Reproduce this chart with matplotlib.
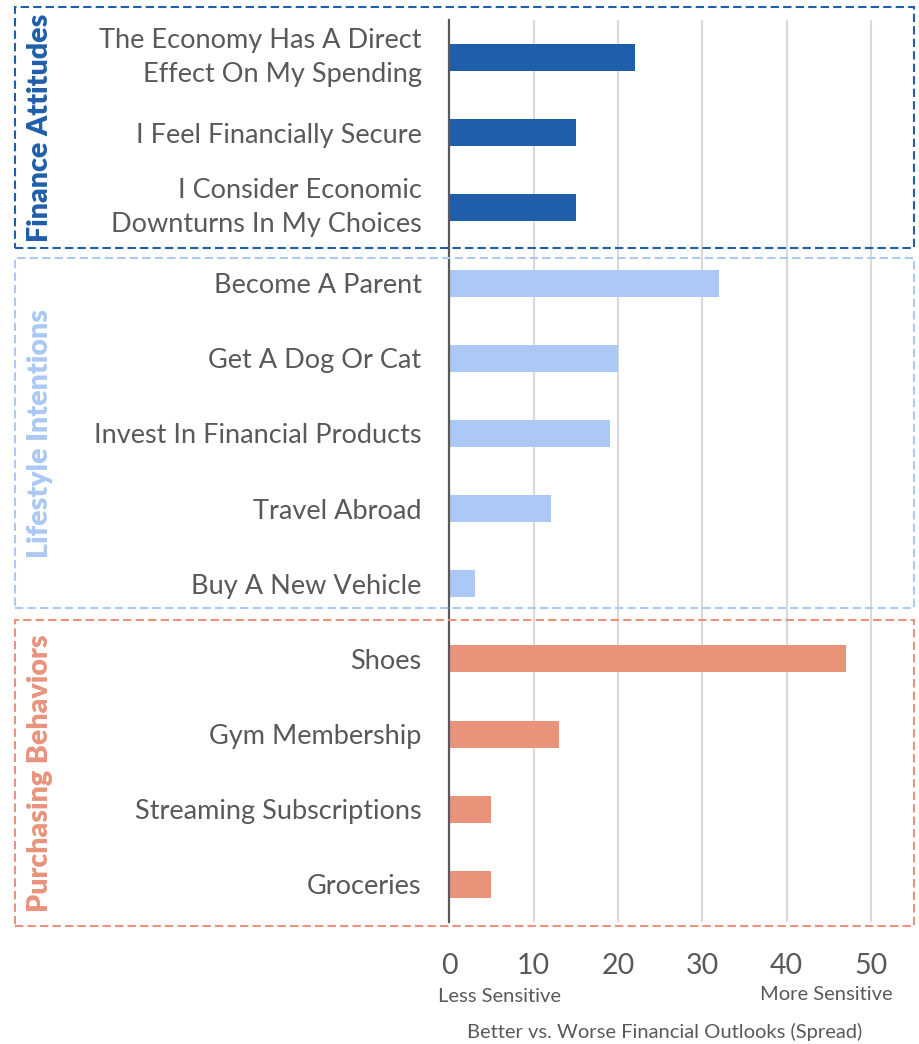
import matplotlib.pyplot as plt
from matplotlib.patches import Rectangle

plt.rcParams['font.family'] = ['Lato', 'DejaVu Sans']

labels = [
    "The Economy Has A Direct\nEffect On My Spending",
    "I Feel Financially Secure",
    "I Consider Economic\nDownturns In My Choices",
    "Become A Parent",
    "Get A Dog Or Cat",
    "Invest In Financial Products",
    "Travel Abroad",
    "Buy A New Vehicle",
    "Shoes",
    "Gym Membership",
    "Streaming Subscriptions",
    "Groceries",
]
spread = [22, 15, 15, 32, 20, 19, 12, 3, 47, 13, 5, 5]
groups = ["Finance Attitudes", "Lifestyle Intentions", "Purchasing Behaviors"]
group_sizes = [3, 5, 4]
group_colors = ["#1f5eaa", "#abc9f4", "#e9937b"]
xticks = [0, 10, 20, 30, 40, 50]

TXT = '#595959'
W, H = 919, 1044
fig = plt.figure(figsize=(W / 100, H / 100), dpi=100)
ax = fig.add_axes([449.3 / W, 1 - 922 / H, (913.2 - 449.3) / W, (922 - 20) / H])

colors = []
for c, n in zip(group_colors, group_sizes):
    colors += [c] * n

y = list(range(len(labels)))
ax.barh(y, spread, height=0.36, color=colors, zorder=3)
ax.set_ylim(len(labels) - 0.5, -0.5)
ax.set_xlim(0, 55)
ax.set_yticks(y)
ax.set_yticklabels(labels, fontsize=19.5, color=TXT, linespacing=1.45)
for lbl in ax.get_yticklabels():
    if "\n" in lbl.get_text():
        lbl.set_verticalalignment('center')
ax.set_xticks(xticks)
ax.set_xticklabels([str(t) for t in xticks], fontsize=20.5, color=TXT)
ax.tick_params(axis='y', length=0, pad=20)
ax.tick_params(axis='x', length=0, pad=22)
for s in ['top', 'right', 'bottom']:
    ax.spines[s].set_visible(False)
ax.spines['left'].set_color(TXT)
ax.spines['left'].set_linewidth(1.6)
ax.spines['left'].set_zorder(4)
ax.xaxis.grid(True, color='#d9d9d9', linewidth=1.5, zorder=0)
ax.set_axisbelow(True)

# sensitivity annotations under the axis
fig.text(499 / W, 1 - 996 / H, "Less Sensitive", ha='center', va='center',
         fontsize=14.5, color=TXT)
fig.text(826 / W, 1 - 995 / H, "More Sensitive", ha='center', va='center',
         fontsize=14.5, color=TXT)
fig.text(665 / W, 1 - 1032 / H, "Better vs. Worse Financial Outlooks (Spread)",
         ha='center', va='center', fontsize=14.5, color=TXT)

# dashed group boxes with vertical group titles
boxes = [(7, 248), (258, 608), (620, 926)]
for (top, bot), name, c in zip(boxes, groups, group_colors):
    rect = Rectangle((15 / W, 1 - bot / H), (914 - 15) / W, (bot - top) / H,
                     transform=fig.transFigure, fill=False, edgecolor=c,
                     linewidth=1.5, linestyle=(0, (4, 2)), zorder=10)
    fig.add_artist(rect)
    fig.text(40 / W, 1 - (top + bot) / 2 / H, name, rotation=90, ha='center',
             va='center', fontsize=20.5, fontweight='heavy', color=c)

fig.savefig("out.png", dpi=100)
